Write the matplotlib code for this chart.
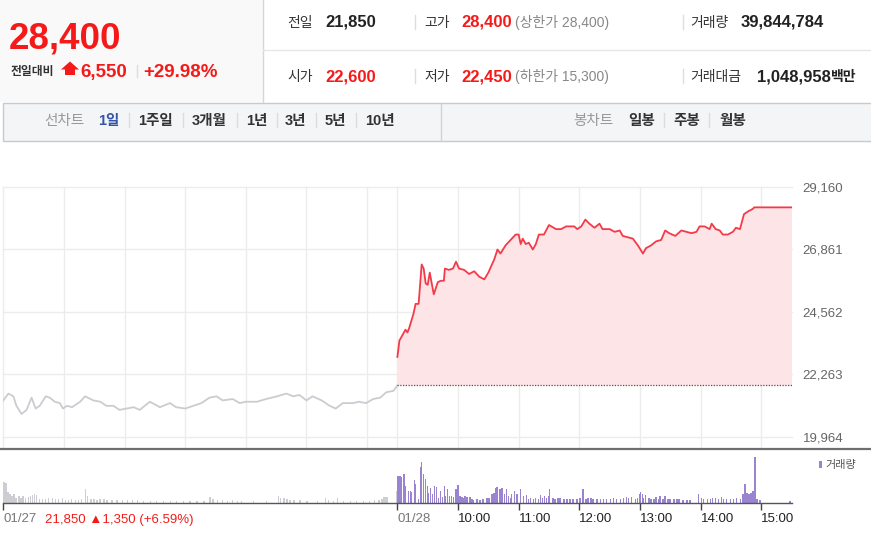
import matplotlib
matplotlib.use('Agg')
import matplotlib.pyplot as plt
from matplotlib.patches import Rectangle, Polygon

FAM = ['Liberation Sans', 'Noto Sans CJK KR', 'DejaVu Sans']
plt.rcParams['font.family'] = FAM

# ---------------- data ----------------
# minutes after 09:00 on 01/27 (day 1) and 01/28 (day 2)
day1_min = [0, 5, 10, 13, 18, 23, 28, 32, 36, 42, 46, 51, 56, 59, 63, 68, 76, 81, 89, 96,
            102, 109, 115, 122, 129, 135, 145, 155, 165, 171, 180, 188, 196, 204, 211, 217,
            227, 234, 240, 251, 260, 271, 280, 287, 293, 300, 306, 315, 323, 329, 336, 346,
            352, 359, 366, 373, 379, 386, 390]
day1_price = [21300, 21550, 21450, 21100, 20800, 20950, 21400, 21000, 21100, 21450, 21400,
              21250, 21200, 21000, 21100, 21050, 21250, 21450, 21300, 21250, 21100, 21100,
              20950, 21000, 21050, 20950, 21250, 21050, 21200, 21050, 21000, 21100, 21200,
              21400, 21450, 21300, 21350, 21200, 21250, 21250, 21350, 21450, 21550, 21450,
              21500, 21300, 21450, 21300, 21100, 21000, 21200, 21200, 21250, 21200, 21350,
              21400, 21600, 21650, 21850]
day2_min = [0, 2, 5, 8, 10, 12, 16, 18, 21, 24, 26, 28, 30, 32, 34, 36, 40, 43, 46, 47, 51,
            55, 58, 61, 66, 71, 76, 81, 86, 90, 93, 96, 99, 102, 107, 112, 117, 120, 122, 124,
            127, 130, 134, 137, 140, 145, 150, 157, 162, 167, 172, 175, 178, 182, 186, 190,
            195, 200, 203, 210, 215, 220, 223, 228, 233, 238, 243, 246, 251, 256, 261, 265,
            269, 275, 281, 286, 291, 296, 299, 304, 309, 311, 315, 319, 322, 327, 332, 335,
            339, 343, 347, 352, 353, 390]
day2_price = [22900, 23500, 23700, 23900, 23800, 24000, 24500, 24850, 24850, 26300, 26150,
              25600, 25550, 26000, 25600, 25200, 25650, 25700, 25700, 26150, 26100, 26150,
              26400, 26150, 26100, 25950, 26050, 25850, 25750, 26000, 26250, 26500, 26850,
              26700, 27000, 27200, 27400, 27400, 27050, 27250, 27050, 27100, 26850, 27050,
              27400, 27400, 27750, 27600, 27600, 27700, 27700, 27700, 27600, 27700, 27950,
              27800, 27650, 27800, 27600, 27600, 27500, 27550, 27350, 27300, 27250, 27000,
              26700, 26900, 27000, 27150, 27200, 27550, 27450, 27350, 27550, 27500, 27450,
              27500, 27700, 27700, 27600, 27800, 27600, 27550, 27400, 27400, 27500, 27650,
              27600, 28150, 28250, 28350, 28400, 28400]
prev_close = 21850
price_ticks = [19964, 22263, 24562, 26861, 29160]

vol1_min = [0, 2, 4, 6, 8, 10, 12, 15, 17, 19, 21, 24, 26, 28, 30, 32, 35, 38, 41, 44, 48,
            51, 54, 58, 61, 64, 67, 71, 74, 77, 81, 83, 86, 89, 92, 95, 99, 102, 107, 112,
            117, 122, 127, 132, 138, 145, 151, 158, 165, 171, 178, 184, 191, 198, 204, 207,
            211, 216, 221, 226, 231, 235, 247, 260, 272, 274, 277, 280, 283, 287, 293, 300,
            310, 318, 321, 326, 330, 336, 343, 349, 356, 362, 367, 371, 374, 376, 378, 379, 389]
vol1 = [63, 60, 32, 27, 20, 25, 15, 20, 15, 20, 15, 17, 20, 23, 25, 23, 10, 12, 10, 15, 13,
        10, 10, 13, 7, 7, 10, 7, 7, 10, 40, 20, 10, 10, 7, 10, 10, 7, 7, 8, 7, 7, 7, 7, 5, 5,
        5, 5, 5, 5, 5, 5, 5, 5, 17, 10, 8, 7, 5, 7, 5, 5, 5, 5, 20, 15, 13, 10, 7, 7, 7, 5,
        5, 15, 7, 5, 13, 5, 5, 5, 5, 5, 7, 7, 10, 17, 17, 17, 35]
vol2_min = [0, 2, 3, 6, 7, 10, 12, 13, 16, 17, 20, 22, 23, 25, 27, 29, 30, 32, 34, 36, 38,
            40, 42, 44, 46, 47, 49, 51, 53, 55, 57, 59, 61, 63, 64, 66, 68, 71, 73, 74, 78,
            81, 84, 88, 90, 93, 95, 97, 98, 101, 103, 105, 107, 109, 111, 112, 115, 117, 118,
            121, 124, 127, 129, 131, 134, 136, 139, 141, 143, 145, 147, 149, 150, 153, 155,
            158, 160, 164, 167, 170, 173, 177, 180, 183, 186, 188, 191, 193, 197, 200, 203,
            206, 210, 213, 216, 220, 223, 226, 228, 231, 235, 237, 239, 240, 242, 243, 245,
            248, 250, 253, 255, 258, 259, 262, 264, 267, 269, 273, 276, 278, 282, 286, 289,
            297, 300, 302, 306, 309, 311, 314, 317, 320, 322, 325, 329, 332, 335, 339, 341,
            343, 345, 347, 349, 351, 353, 355, 358, 388]
vol2 = [80, 80, 78, 85, 50, 35, 35, 32, 67, 55, 10, 107, 123, 87, 70, 50, 30, 43, 25, 50,
        47, 15, 35, 17, 50, 20, 40, 20, 20, 17, 40, 53, 20, 17, 15, 20, 17, 17, 10, 7, 10, 7,
        10, 13, 15, 25, 30, 43, 47, 42, 45, 27, 42, 20, 15, 25, 35, 27, 25, 40, 20, 23, 12,
        15, 10, 13, 10, 23, 15, 20, 13, 20, 40, 13, 10, 13, 13, 10, 12, 10, 12, 12, 15, 40,
        10, 13, 15, 10, 10, 10, 12, 10, 10, 15, 10, 12, 15, 17, 13, 17, 10, 13, 27, 32, 25,
        15, 23, 15, 10, 12, 17, 10, 20, 10, 20, 12, 10, 10, 10, 10, 8, 8, 7, 25, 15, 10, 10,
        10, 13, 13, 10, 17, 10, 10, 10, 10, 15, 10, 25, 57, 30, 27, 30, 35, 137, 10, 7, 5]

xtick_pos = [0, 390, 450, 510, 570, 630, 690, 750]
xtick_labels = ['01/27', '01/28', '10:00', '11:00', '12:00', '13:00', '14:00', '15:00']
day1_summary = '21,850 \u25b21,350 (+6.59%)'

# ---------------- layout ----------------
W, H = 871, 547
fig = plt.figure(figsize=(W / 100, H / 100), dpi=100)
fig.patch.set_facecolor('white')


def px_rect(l, t, r, b):
    return [l / W, 1 - b / H, (r - l) / W, (b - t) / H]


RED = '#f51a1a'
SESSION = 390

# price panel
ax = fig.add_axes(px_rect(3.3, 186.7, 791.5, 449))
ax.set_facecolor('none')
ax.set_xlim(0, 2 * SESSION)
ax.set_ylim(19512, 29160)
d2x = [m + SESSION for m in day2_min]
ax.fill_between(d2x, day2_price, prev_close, color='#fde4e7', lw=0, zorder=1)
ax.plot(day1_min, day1_price, color='#cbccd1', lw=1.3, zorder=3)
ax.plot(d2x, day2_price, color='#f43a48', lw=1.3, zorder=3)
ax.plot([SESSION, 2 * SESSION], [prev_close, prev_close], color='#555555', lw=0.9,
        ls=(0, (1, 1.2)), zorder=3)
grid_x = list(range(0, 361, 60)) + list(range(SESSION, SESSION + 361, 60))
ax.set_xticks(grid_x)
ax.set_xticklabels([])
ax.set_yticks(price_ticks)
ax.set_yticklabels([f'{v:,}' for v in price_ticks])
ax.yaxis.tick_right()
ax.tick_params(axis='both', length=0)
ax.tick_params(axis='y', pad=8, labelsize=9.5, labelcolor='#666666')
ax.grid(True, color='#ececec', lw=1)
for gl in ax.get_xgridlines() + ax.get_ygridlines():
    gl.set_clip_on(False)
ax.set_axisbelow(True)
for s in ax.spines.values():
    s.set_visible(False)

# volume panel
av = fig.add_axes(px_rect(3.3, 449, 791.5, 502.5))
av.set_facecolor('none')
av.set_xlim(0, 2 * SESSION)
av.set_ylim(0, 160.5)
av.bar(vol1_min, vol1, width=1.3, color='#cdcdd3', lw=0, align='edge')
av.bar([m + SESSION for m in vol2_min], vol2, width=1.5, color='#9a84d2', lw=0, align='edge')
for k in ('top', 'left', 'right'):
    av.spines[k].set_visible(False)
av.spines['bottom'].set_color('#555555')
av.spines['bottom'].set_linewidth(1)
av.set_yticks([])
av.set_xticks(xtick_pos)
av.set_xticklabels(xtick_labels)
av.tick_params(axis='x', length=5, width=1, color='#444444', pad=2.5, labelsize=9.5)
for lab, txt in zip(av.get_xticklabels(), xtick_labels):
    lab.set_horizontalalignment('left')
    lab.set_color('#777777' if '/' in txt else '#222222')

# overlay for page elements
ov = fig.add_axes([0, 0, 1, 1], zorder=5)
ov.set_xlim(0, W)
ov.set_ylim(H, 0)
ov.axis('off')
ov.patch.set_visible(False)

# separator between panels
ov.plot([0, W], [449, 449], color='#6e6e6e', lw=1.6)

# header left box
ov.add_patch(Rectangle((0, 0), 263, 102, facecolor='#f9f9f9', edgecolor='none'))
ov.plot([263, 263], [0, 102], color='#d6d6d6', lw=1)
ov.plot([263, W], [49.5, 49.5], color='#e6e6e6', lw=1)

ov.text(9, 49, '28,400', color=RED, fontsize=26.5, fontweight='bold', va='baseline')
ov.text(11, 75.5, '전일대비', color='#333333', fontsize=8.5, fontweight='bold', va='baseline')
ov.add_patch(Polygon([(61, 69.5), (70, 61.5), (79, 69.5), (75, 69.5), (75, 75),
                      (65, 75), (65, 69.5)], closed=True, facecolor=RED, edgecolor='none'))
ov.text(80, 77, '6,550', color=RED, fontsize=13.5, fontweight='bold', va='baseline')
ov.plot([136.5, 136.5], [65, 77], color='#dddddd', lw=1)
ov.text(143, 77, '+29.98%', color=RED, fontsize=13.5, fontweight='bold', va='baseline')

# info table
rows = [
    [(287, '전일', '#333333', 10, 'normal'), (325, '21,850', '#222222', 12, 'bold'),
     (424, '고가', '#333333', 10, 'normal'), (461, '28,400', RED, 12, 'bold'),
     (515, '(상한가 28,400)', '#888888', 10, 'normal'),
     (690, '거래량', '#333333', 10, 'normal'), (741, '39,844,784', '#222222', 12, 'bold')],
    [(287, '시가', '#333333', 10, 'normal'), (325, '22,600', RED, 12, 'bold'),
     (424, '저가', '#333333', 10, 'normal'), (461, '22,450', RED, 12, 'bold'),
     (515, '(하한가 15,300)', '#888888', 10, 'normal'),
     (690, '거래대금', '#333333', 10, 'normal'), (757, '1,048,958', '#222222', 12, 'bold'),
     (831, '백만', '#222222', 10, 'bold')],
]
for base, row in zip([26.5, 81], rows):
    for x, t, c, fs, fw in row:
        ov.text(x, base, t, color=c, fontsize=fs, fontweight=fw, va='baseline')
    for sx in (415, 683):
        ov.plot([sx, sx], [base - 12, base + 2], color='#dddddd', lw=1)

# tab bar
ov.add_patch(Rectangle((3.3, 103.3), W - 3.3 + 2, 37.7, facecolor='#f4f5f7',
                       edgecolor='#c9c9c9', lw=1))
ov.plot([441, 441], [103.3, 141], color='#d2d2d2', lw=1)
TB = 125
ov.text(44, TB, '선차트', color='#999999', fontsize=10.5, va='baseline')
ov.text(98, TB, '1일', color='#3556a8', fontsize=10.5, fontweight='bold', va='baseline')
for x, t in [(138, '1주일'), (192, '3개월'), (246, '1년'), (285, '3년'), (325, '5년'),
             (365, '10년')]:
    ov.text(x, TB, t, color='#333333', fontsize=10.5, fontweight='bold', va='baseline')
for sx in (129, 183, 237, 277, 316, 356, 664, 709):
    ov.plot([sx, sx], [113, 127], color='#dcdcdc', lw=1)
ov.text(573, TB, '봉차트', color='#999999', fontsize=10.5, va='baseline')
for x, t in [(628, '일봉'), (673, '주봉'), (719, '월봉')]:
    ov.text(x, TB, t, color='#333333', fontsize=10.5, fontweight='bold', va='baseline')

# volume legend
ov.add_patch(Rectangle((819.3, 460.7), 2.8, 7.5, facecolor='#9a84d2', edgecolor='none'))
ov.text(825, 468, '거래량', color='#555555', fontsize=8, va='baseline')

# day-1 summary next to date label
ov.text(45, 523, day1_summary, color=RED, fontsize=9.5, va='baseline')

fig.savefig('out.png', dpi=100, facecolor='white')
